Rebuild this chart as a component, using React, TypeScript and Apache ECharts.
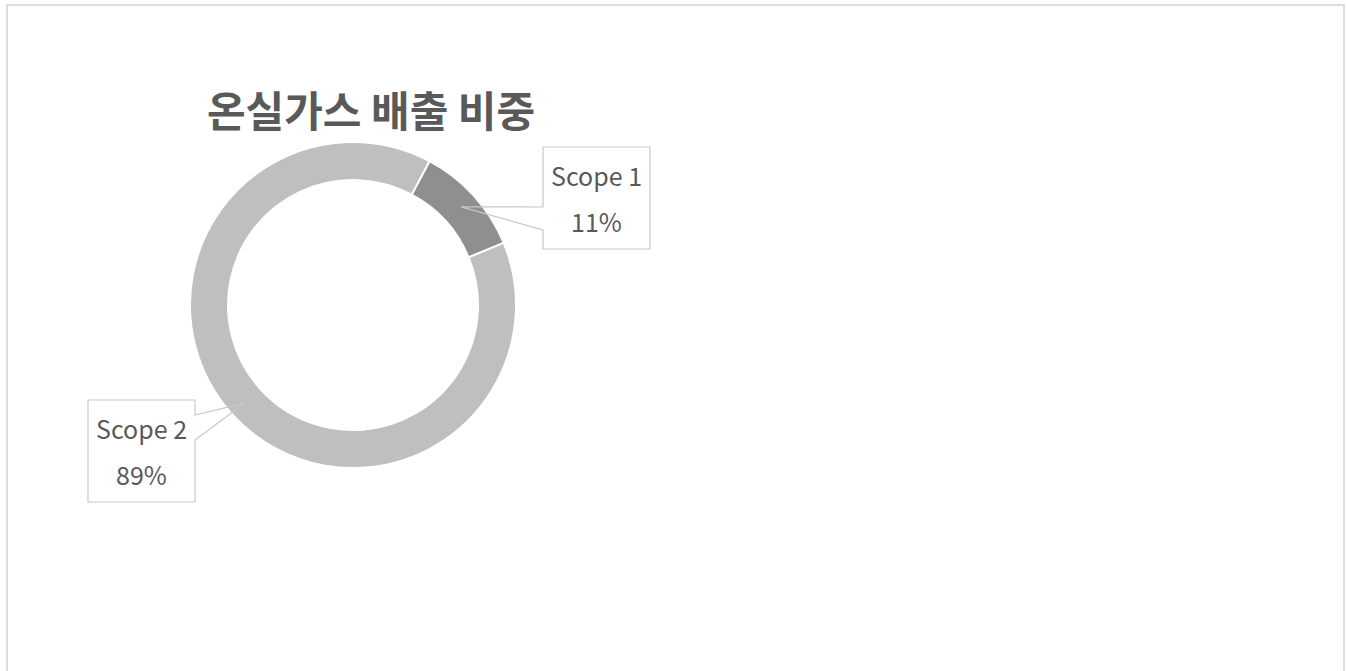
import React, { useEffect, useRef } from "react";
import * as echarts from "echarts";

const categories = ["Scope 1", "Scope 2"];
const shares = [11, 89];
const sliceColors = ["#8f8f8f", "#bfbfbf"];
const titleText = "온실가스 배출 비중";

// layout constants (label callout boxes)
const CX = 353;
const CY = 305;
const R_IN = 125;
const R_OUT = 163;
const START = 62;
const boxes = [
  { l: 543, t: 147, w: 107, h: 102, side: "left", p1: 60, p2: 83 },
  { l: 88, t: 400, w: 107, h: 102, side: "right", p1: 15, p2: 40 },
];

export default function App() {
  const ref = useRef<HTMLDivElement>(null);
  useEffect(() => {
    document.body.style.margin = "0";
    const chart = echarts.init(ref.current!, null, { renderer: "svg" });
    const total = shares.reduce((a, b) => a + b, 0);
    const tipOf = (i: number) => {
      let before = 0;
      for (let k = 0; k < i; k++) before += shares[k];
      const mid = START - ((before + shares[i] / 2) / total) * 360;
      const rad = (mid * Math.PI) / 180;
      const r = (R_IN + R_OUT) / 2 + 2;
      return [CX + r * Math.cos(rad), CY - r * Math.sin(rad)];
    };
    const common = {
      type: "pie",
      center: [CX, CY],
      radius: [R_IN, R_OUT],
      startAngle: START,
      clockwise: true,
      avoidLabelOverlap: false,
      emphasis: { disabled: true },
    };
    chart.setOption({
      animation: false,
      backgroundColor: "#ffffff",
      title: {
        text: titleText,
        left: 366,
        top: 82,
        textAlign: "center",
        textStyle: {
          fontSize: 42,
          fontWeight: "bold",
          color: "#595959",
          fontFamily: "Noto Sans CJK KR",
        },
      },
      graphic: [
        {
          type: "rect",
          shape: { x: 7, y: 5, width: 1337, height: 690 },
          style: { fill: "none", stroke: "#dedede", lineWidth: 2 },
          silent: true,
        },
      ],
      series: [
        {
          ...common,
          z: 2,
          itemStyle: { borderColor: "#ffffff", borderWidth: 2 },
          data: categories.map((name, i) => ({
            name,
            value: shares[i],
            itemStyle: { color: sliceColors[i] },
          })),
          label: { show: false },
          labelLine: { show: false },
        },
        {
          ...common,
          z: 3,
          silent: true,
          itemStyle: { color: "rgba(0,0,0,0)", borderWidth: 0 },
          data: categories.map((name, i) => ({ name, value: shares[i] })),
          label: {
            show: true,
            position: "outside",
            formatter: (p: any) => `${p.name}\n${Math.round(p.percent)}%`,
            fontSize: 25,
            lineHeight: 46,
            color: "#595959",
            fontFamily: "Noto Sans CJK KR",
          },
          labelLine: {
            show: true,
            smooth: false,
            lineStyle: { color: "#c8c8c8", width: 1.2 },
          },
          labelLayout: (params: any) => {
            const i = params.dataIndex;
            const b = boxes[i];
            const L = b.l, T = b.t, R = b.l + b.w, B = b.t + b.h;
            const tip = tipOf(i);
            let pts: number[][];
            if (b.side === "left") {
              pts = [[L, T], [R, T], [R, B], [L, B], [L, T + b.p2], tip, [L, T + b.p1], [L, T]];
            } else {
              pts = [[L, T], [R, T], [R, T + b.p1], tip, [R, T + b.p2], [R, B], [L, B], [L, T]];
            }
            return {
              x: L + b.w / 2,
              y: T + b.h / 2,
              align: "center",
              verticalAlign: "middle",
              labelLinePoints: pts,
            };
          },
        },
      ],
    });
    return () => chart.dispose();
  }, []);
  return (
    <div
      ref={ref}
      style={{ position: "absolute", left: 0, top: 0, width: 1346, height: 671 }}
    />
  );
}
